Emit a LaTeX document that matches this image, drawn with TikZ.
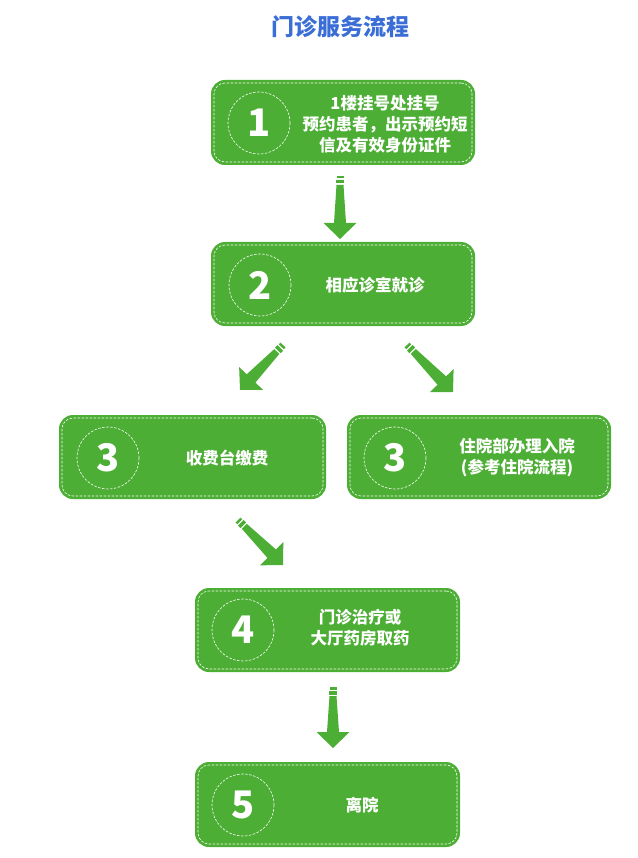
\documentclass[tikz,border=0pt]{standalone}
\usepackage{fontspec}
\setmainfont{Noto Sans CJK SC}
\usetikzlibrary{calc}
\definecolor{boxgreen}{RGB}{76,174,52}
\definecolor{titleblue}{RGB}{58,110,214}
\tikzset{
  box/.style={fill=boxgreen, rounded corners=14pt, inner sep=0pt},
  dashbox/.style={draw=white, line width=0.6pt, dash pattern=on 2.5pt off 1.5pt, rounded corners=11pt, inner sep=0pt},
  numcirc/.style={circle, draw=white, line width=0.6pt, dash pattern=on 2.5pt off 1.5pt, minimum size=62pt, inner sep=0pt, text=white, font=\fontsize{38}{38}\selectfont\bfseries},
  steptext/.style={text=white, align=center, font=\fontsize{16.5}{21}\selectfont\bfseries},
  titletext/.style={text=titleblue, font=\fontsize{23}{27}\selectfont\bfseries},
  pics/fatarrow/.style={code={
    \fill[boxgreen] (0,-3.5) rectangle (2.5,3.5);
    \fill[boxgreen] (4,-4) rectangle (7.5,4);
    \fill[boxgreen] (9,-3.5) -- (#1-16,-6) -- (#1-16,-16.5) -- (#1,0)
       -- (#1-16,16.5) -- (#1-16,6) -- (9,3.5) -- cycle;
  }}
}
\newcommand\fatarrow[2]{%
  \path let \p1=($(#2)-(#1)$), \n1={atan2(\y1,\x1)}, \n2={veclen(\x1,\y1)} in
    (#1) pic[rotate=\n1] {fatarrow={\n2}};}
\begin{document}
\begin{tikzpicture}[x=1pt,y=-1pt]
\useasboundingbox (0,0) rectangle (637,858);

\node[titletext] (title) at (340,27) {门诊服务流程};

% boxes
\node[box, minimum width=264pt, minimum height=85pt] (b1) at (343,122.5) {};
\node[dashbox, minimum width=258pt, minimum height=79pt] (d1) at (b1) {};
\node[box, minimum width=264pt, minimum height=84pt] (b2) at (343,284) {};
\node[dashbox, minimum width=258pt, minimum height=78pt] (d2) at (b2) {};
\node[box, minimum width=267pt, minimum height=84pt] (b3l) at (192.5,457) {};
\node[dashbox, minimum width=261pt, minimum height=78pt] (d3l) at (b3l) {};
\node[box, minimum width=264pt, minimum height=84pt] (b3r) at (479,457) {};
\node[dashbox, minimum width=258pt, minimum height=78pt] (d3r) at (b3r) {};
\node[box, minimum width=265pt, minimum height=84pt] (b4) at (327.5,630) {};
\node[dashbox, minimum width=259pt, minimum height=78pt] (d4) at (b4) {};
\node[box, minimum width=265pt, minimum height=85pt] (b5) at (327.5,804.5) {};
\node[dashbox, minimum width=259pt, minimum height=79pt] (d5) at (b5) {};

% number circles
\node[numcirc] (c1) at (259,123) {1};
\node[numcirc] (c2) at (260,285) {2};
\node[numcirc] (c3l) at (108,458) {3};
\node[numcirc] (c3r) at (395,458) {3};
\node[numcirc] (c4) at (243,630) {4};
\node[numcirc] (c5) at (243,805) {5};

% texts
\node[steptext] (t1) at (385,124) {1楼挂号处挂号\\预约患者，出示预约短\\信及有效身份证件};
\node[steptext] (t2) at (375,285) {相应诊室就诊};
\node[steptext] (t3l) at (227,458) {收费台缴费};
\node[steptext] (t3r) at (517,458) {住院部办理入院\\(参考住院流程)};
\node[steptext] (t4) at (360,628) {门诊治疗或\\大厅药房取药};
\node[steptext] (t5) at (362,805) {离院};

% arrows
\coordinate (a1s) at (340,176); \coordinate (a1e) at (340,239);
\coordinate (a2s) at (283,345); \coordinate (a2e) at (240,390);
\coordinate (a3s) at (407,345); \coordinate (a3e) at (453,392);
\coordinate (a4s) at (238,520); \coordinate (a4e) at (283,565);
\coordinate (a5s) at (333,687); \coordinate (a5e) at (333,748);
\fatarrow{a1s}{a1e}
\fatarrow{a2s}{a2e}
\fatarrow{a3s}{a3e}
\fatarrow{a4s}{a4e}
\fatarrow{a5s}{a5e}
\end{tikzpicture}
\end{document}
